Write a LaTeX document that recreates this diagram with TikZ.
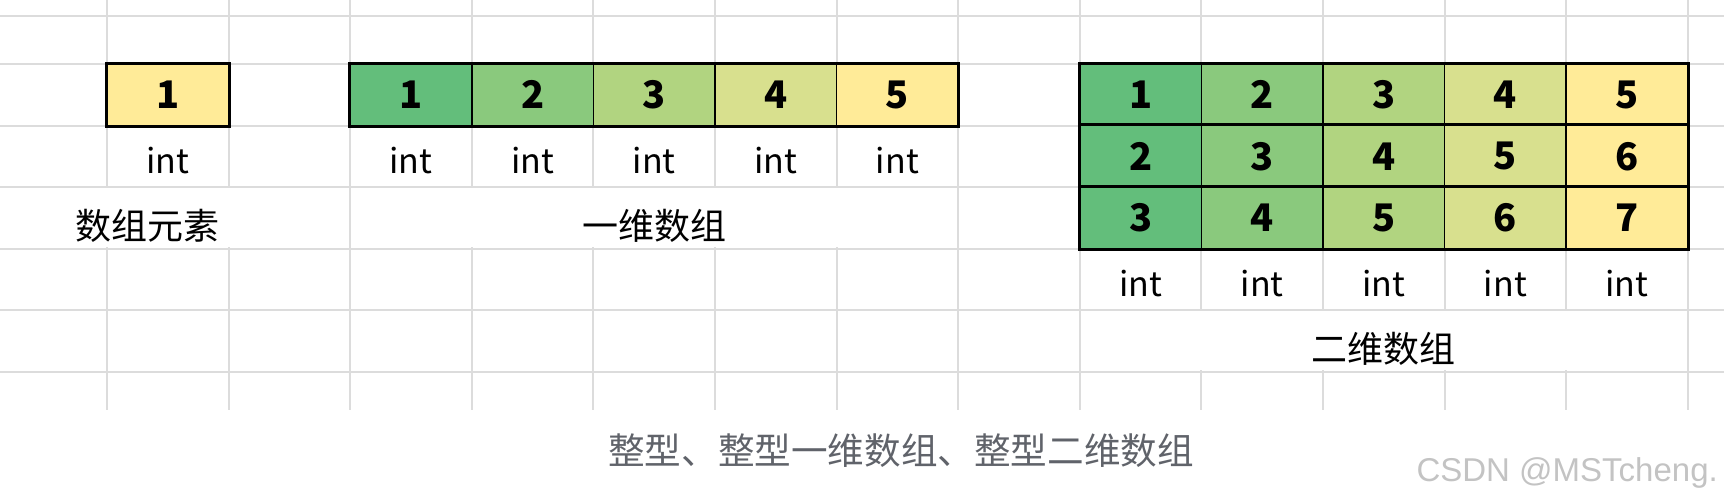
\documentclass[tikz,border=0pt]{standalone}
\usepackage{fontspec}
\setmainfont{Noto Sans CJK SC}
\newfontfamily\wmfont{Liberation Sans}
\usepackage{xcolor}
\usetikzlibrary{positioning}
\usetikzlibrary{calc}

\definecolor{gridgray}{RGB}{220,220,220}
\definecolor{c1}{RGB}{99,190,123}
\definecolor{c2}{RGB}{138,201,125}
\definecolor{c3}{RGB}{177,212,128}
\definecolor{c4}{RGB}{216,224,142}
\definecolor{c5}{RGB}{255,235,152}
\definecolor{capgray}{RGB}{96,99,106}
\definecolor{wmgray}{RGB}{195,195,195}

\tikzset{
	gridline/.style={gridgray, line width=2pt},
	numcell/.style={rectangle, draw=black, line width=1.5pt, minimum width=121.6pt, minimum height=61.5pt, inner sep=0pt, font=\fontsize{38}{44}\selectfont\bfseries},
	outerbox/.style={draw=black, line width=3pt},
	typelabel/.style={inner sep=0pt, font=\fontsize{34}{40}\selectfont},
	arrlabel/.style={inner sep=0pt, font=\fontsize{36}{42}\selectfont},
}

\begin{document}
\begin{tikzpicture}[x=1pt, y=-1pt]
				\useasboundingbox (0,0) rectangle (1724,503);
				% draw grid
				\foreach \i in {0,...,13}
					\draw[gridline] ({107+121.6*\i},0) -- ({107+121.6*\i},410);
				\foreach \y in {16,64,125.5,187,248.5,310,371.5}
					\draw[gridline] (0,\y) -- (1724,\y);
				% merged cells
				\fill[white] (0,188.2) rectangle (348.8,247.3);
				\fill[white] (351.2,188.2) rectangle (955.8,247.3);
				\fill[white] (1081,311.2) rectangle (1686.6,370.3);
				
				% element
				\node[numcell, fill=c5] (s) at (167.8,94.75) {1};
				\draw[outerbox] (s.north west) rectangle (s.south east);
				\node[typelabel] (st) at (s |- 0,161) {int};
				\node[arrlabel] (elem) at (147,226) {数组元素};
				
				% one-dimensional array
				\foreach \k in {1,...,5} {
					\node[numcell, fill=c\k] (a\k) at ({107+121.6*(\k+1)+60.8},94.75) {\k};
					\node[typelabel] (at\k) at (a\k |- 0,161) {int};
				}
				\draw[outerbox] (a1.north west) rectangle (a5.south east);
				\node[arrlabel] (one) at (a3 |- elem) {一维数组};
				
				% two-dimensional array
				\foreach \r in {1,2,3} {
					\foreach \k in {1,...,5} {
						\pgfmathtruncatemacro\val{\r+\k-1}
						\node[numcell, fill=c\k] (b\r\k) at ({107+121.6*(\k+7)+60.8},{64+61.5*(\r-1)+30.75}) {\val};
					}
					\draw[outerbox] (b\r1.north west) rectangle (b\r5.south east);
				}
				\foreach \k in {1,...,5}
					\node[typelabel] (bt\k) at (b3\k |- 0,284) {int};
				\node[arrlabel] (two) at (b33 |- 0,349) {二维数组};
				
				% caption and watermark
				\node[inner sep=0pt, capgray, font=\fontsize{36.6}{44}\selectfont] (cap) at (901,451) {整型、整型一维数组、整型二维数组};
				\node[inner sep=0pt, anchor=east, wmgray, font=\wmfont\fontsize{33}{38}\selectfont] (wm) at (1718,473) {CSDN @MSTcheng.};
			\end{tikzpicture}
\end{document}
